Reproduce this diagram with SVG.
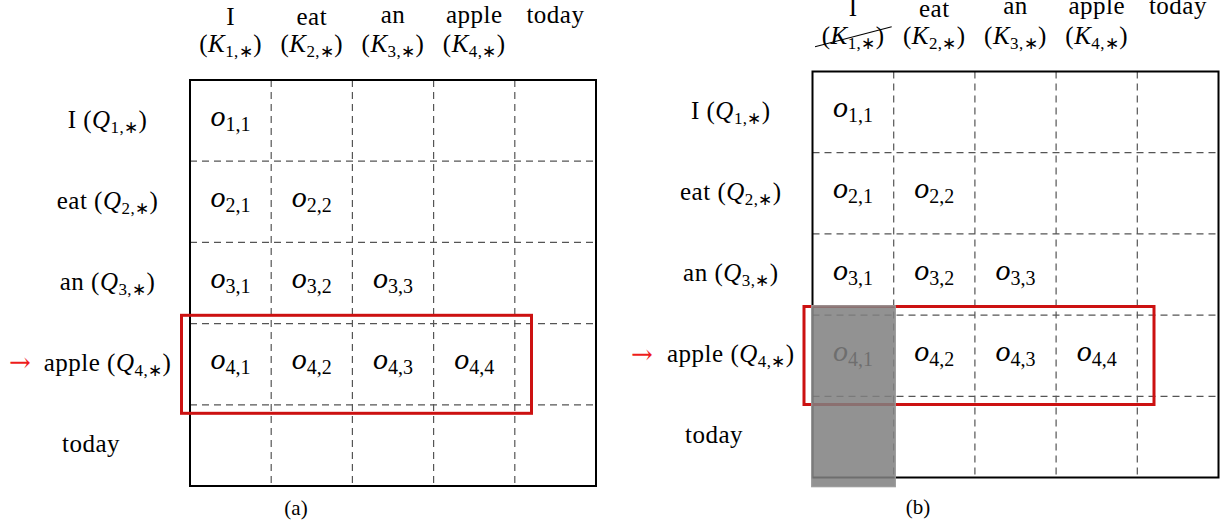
<svg xmlns="http://www.w3.org/2000/svg" width="1223" height="529" viewBox="0 0 1223 529">
<style>
.t{font-family:"Liberation Serif","Times New Roman",serif;font-size:25px;fill:#000;letter-spacing:0.5px}
.it{font-style:italic}
.sub{font-size:17px;letter-spacing:0.4px}
.cell{font-family:"Liberation Serif","Times New Roman",serif;font-size:30px;fill:#000}
.cs{font-size:20px;font-style:normal}
.cap{font-family:"Liberation Serif","Times New Roman",serif;font-size:21px;fill:#000}
.arr{font-family:"DejaVu Serif",serif;font-size:26px;fill:#ee1c1c}
.grid{stroke:#555;stroke-width:1.2;stroke-dasharray:7 5;fill:none}
.box{stroke:#000;stroke-width:2;fill:none}
.hl{stroke:#cc1111;stroke-width:3;fill:none}
.mask{fill:#808080;fill-opacity:0.86;stroke:#9a9a9a;stroke-width:1.2}
</style>

<!-- ================= Panel (a) ================= -->
<g id="panel-a">
  <g id="a-grid">
    <path class="grid" d="M271.2 80V486M352.4 80V486M433.6 80V486M514.8 80V486M190 161.2H596M190 242.4H596M190 323.6H596M190 404.8H596"/>
    <rect class="box" x="190" y="80" width="406" height="406"/>
  </g>
  <g id="a-keys" text-anchor="middle">
    <text class="t" x="230.6" y="24.5">I</text>
    <text class="t" x="311.8" y="25">eat</text>
    <text class="t" x="393" y="22.5">an</text>
    <text class="t" x="474.2" y="22.5">apple</text>
    <text class="t" x="555.4" y="22.5">today</text>
    <text class="t" x="230.6" y="52">(<tspan class="it">K</tspan><tspan class="sub" dy="5">1,∗</tspan><tspan dy="-5">)</tspan></text>
    <text class="t" x="311.8" y="52">(<tspan class="it">K</tspan><tspan class="sub" dy="5">2,∗</tspan><tspan dy="-5">)</tspan></text>
    <text class="t" x="393" y="52">(<tspan class="it">K</tspan><tspan class="sub" dy="5">3,∗</tspan><tspan dy="-5">)</tspan></text>
    <text class="t" x="474.2" y="52">(<tspan class="it">K</tspan><tspan class="sub" dy="5">4,∗</tspan><tspan dy="-5">)</tspan></text>
  </g>
  <g id="a-queries" text-anchor="middle">
    <text class="t" x="107.5" y="127.6">I (<tspan class="it">Q</tspan><tspan class="sub" dy="5">1,∗</tspan><tspan dy="-5">)</tspan></text>
    <text class="t" x="107.5" y="208.8">eat (<tspan class="it">Q</tspan><tspan class="sub" dy="5">2,∗</tspan><tspan dy="-5">)</tspan></text>
    <text class="t" x="107.5" y="290">an (<tspan class="it">Q</tspan><tspan class="sub" dy="5">3,∗</tspan><tspan dy="-5">)</tspan></text>
    <text class="t" x="107.5" y="371.2">apple (<tspan class="it">Q</tspan><tspan class="sub" dy="5">4,∗</tspan><tspan dy="-5">)</tspan></text>
    <text class="t" x="91" y="452">today</text>
  </g>
  <g id="a-cells" text-anchor="middle">
    <text class="cell" x="230.6" y="125.6"><tspan class="it">o</tspan><tspan class="cs" dy="5">1,1</tspan></text>
    <text class="cell" x="230.6" y="206.8"><tspan class="it">o</tspan><tspan class="cs" dy="5">2,1</tspan></text>
    <text class="cell" x="311.8" y="206.8"><tspan class="it">o</tspan><tspan class="cs" dy="5">2,2</tspan></text>
    <text class="cell" x="230.6" y="288"><tspan class="it">o</tspan><tspan class="cs" dy="5">3,1</tspan></text>
    <text class="cell" x="311.8" y="288"><tspan class="it">o</tspan><tspan class="cs" dy="5">3,2</tspan></text>
    <text class="cell" x="393" y="288"><tspan class="it">o</tspan><tspan class="cs" dy="5">3,3</tspan></text>
    <text class="cell" x="230.6" y="369.2"><tspan class="it">o</tspan><tspan class="cs" dy="5">4,1</tspan></text>
    <text class="cell" x="311.8" y="369.2"><tspan class="it">o</tspan><tspan class="cs" dy="5">4,2</tspan></text>
    <text class="cell" x="393" y="369.2"><tspan class="it">o</tspan><tspan class="cs" dy="5">4,3</tspan></text>
    <text class="cell" x="474.2" y="369.2"><tspan class="it">o</tspan><tspan class="cs" dy="5">4,4</tspan></text>
  </g>
  <rect id="a-highlight" class="hl" x="181.5" y="315.3" width="350" height="98"/>
  <text id="a-pointer" class="arr" x="20" y="371" text-anchor="middle">→</text>
  <text id="a-caption" class="cap" x="296" y="515" text-anchor="middle">(a)</text>
</g>

<!-- ================= Panel (b) ================= -->
<g id="panel-b">
  <g id="b-grid">
    <path class="grid" d="M893.7 71.5V477.5M974.9 71.5V477.5M1056.1 71.5V477.5M1137.3 71.5V477.5M812.5 152.7H1218.5M812.5 233.9H1218.5M812.5 315.1H1218.5M812.5 396.3H1218.5"/>
    <rect class="box" x="812.5" y="71.5" width="406" height="406"/>
  </g>
  <g id="b-keys" text-anchor="middle">
    <text class="t" x="853.1" y="15.5">I</text>
    <text class="t" x="934.3" y="17">eat</text>
    <text class="t" x="1015.5" y="14">an</text>
    <text class="t" x="1096.7" y="14">apple</text>
    <text class="t" x="1177.9" y="14">today</text>
    <text class="t" x="853.1" y="43.5">(<tspan class="it">K</tspan><tspan class="sub" dy="5">1,∗</tspan><tspan dy="-5">)</tspan></text>
    <text class="t" x="934.3" y="43.5">(<tspan class="it">K</tspan><tspan class="sub" dy="5">2,∗</tspan><tspan dy="-5">)</tspan></text>
    <text class="t" x="1015.5" y="43.5">(<tspan class="it">K</tspan><tspan class="sub" dy="5">3,∗</tspan><tspan dy="-5">)</tspan></text>
    <text class="t" x="1096.7" y="43.5">(<tspan class="it">K</tspan><tspan class="sub" dy="5">4,∗</tspan><tspan dy="-5">)</tspan></text>
    <line id="b-strike" x1="815" y1="46.7" x2="891.7" y2="26.7" stroke="#000" stroke-width="1.1"/>
  </g>
  <g id="b-queries" text-anchor="middle">
    <text class="t" x="730.8" y="118.6">I (<tspan class="it">Q</tspan><tspan class="sub" dy="5">1,∗</tspan><tspan dy="-5">)</tspan></text>
    <text class="t" x="730.8" y="199.8">eat (<tspan class="it">Q</tspan><tspan class="sub" dy="5">2,∗</tspan><tspan dy="-5">)</tspan></text>
    <text class="t" x="730.8" y="281">an (<tspan class="it">Q</tspan><tspan class="sub" dy="5">3,∗</tspan><tspan dy="-5">)</tspan></text>
    <text class="t" x="730.8" y="362.2">apple (<tspan class="it">Q</tspan><tspan class="sub" dy="5">4,∗</tspan><tspan dy="-5">)</tspan></text>
    <text class="t" x="714" y="443.3">today</text>
  </g>
  <g id="b-cells" text-anchor="middle">
    <text class="cell" x="853.1" y="117.1"><tspan class="it">o</tspan><tspan class="cs" dy="5">1,1</tspan></text>
    <text class="cell" x="853.1" y="198.3"><tspan class="it">o</tspan><tspan class="cs" dy="5">2,1</tspan></text>
    <text class="cell" x="934.3" y="198.3"><tspan class="it">o</tspan><tspan class="cs" dy="5">2,2</tspan></text>
    <text class="cell" x="853.1" y="279.5"><tspan class="it">o</tspan><tspan class="cs" dy="5">3,1</tspan></text>
    <text class="cell" x="934.3" y="279.5"><tspan class="it">o</tspan><tspan class="cs" dy="5">3,2</tspan></text>
    <text class="cell" x="1015.5" y="279.5"><tspan class="it">o</tspan><tspan class="cs" dy="5">3,3</tspan></text>
    <text class="cell" x="853.1" y="360.7"><tspan class="it">o</tspan><tspan class="cs" dy="5">4,1</tspan></text>
    <text class="cell" x="934.3" y="360.7"><tspan class="it">o</tspan><tspan class="cs" dy="5">4,2</tspan></text>
    <text class="cell" x="1015.5" y="360.7"><tspan class="it">o</tspan><tspan class="cs" dy="5">4,3</tspan></text>
    <text class="cell" x="1096.7" y="360.7"><tspan class="it">o</tspan><tspan class="cs" dy="5">4,4</tspan></text>
  </g>
  <rect id="b-highlight" class="hl" x="804" y="306.5" width="350" height="98"/>
  <rect id="b-mask" class="mask" x="811.7" y="305.7" width="83.6" height="181"/>
  <text id="b-pointer" class="arr" x="642" y="363" text-anchor="middle">→</text>
  <text id="b-caption" class="cap" x="918" y="514" text-anchor="middle">(b)</text>
</g>
</svg>
